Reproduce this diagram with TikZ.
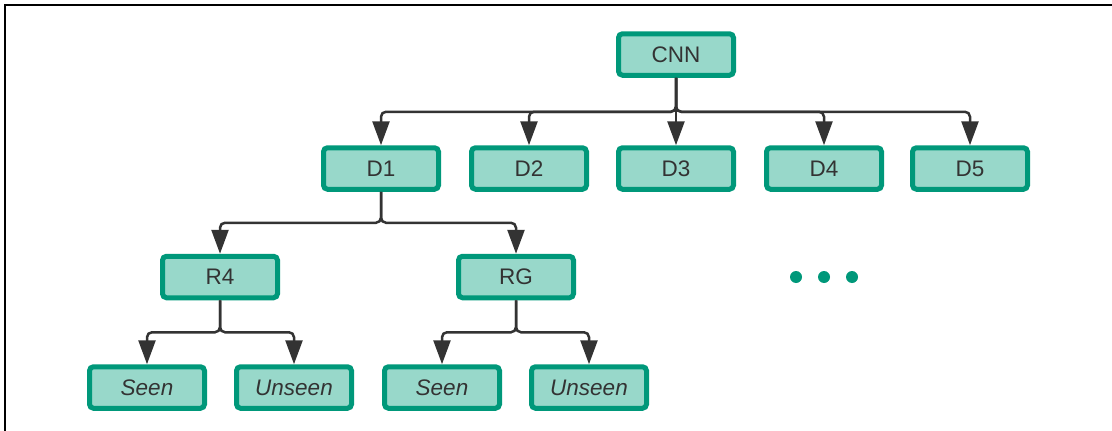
\documentclass[tikz,border=0pt]{standalone}
\usepackage{fontspec}
\setmainfont{Liberation Sans}
\usetikzlibrary{arrows.meta}
\definecolor{boxfill}{RGB}{152,216,202}
\definecolor{boxline}{RGB}{0,152,122}
\definecolor{ink}{RGB}{51,51,51}
\tikzset{
  box/.style={draw=boxline, fill=boxfill, line width=5pt, rounded corners=4pt,
    minimum width=115pt, minimum height=41.5pt, inner sep=0pt,
    text=ink, font=\fontsize{22.5}{26}\selectfont},
  leaf/.style={box, font=\fontsize{22.5}{26}\selectfont\itshape},
  link/.style={draw=ink, line width=2.5pt, rounded corners=5pt,
    -{Triangle[length=24pt,width=17pt]}},
  dot/.style={circle, fill=boxline, inner sep=0pt, minimum size=12pt}
}
\begin{document}
\begin{tikzpicture}[x=1pt,y=-1pt]
\useasboundingbox (0,0) rectangle (1112,431);
% frame
\draw[line width=2pt, black] (5,431) -- (5,5) -- (1112,5);

% root and first level
\node[box] (cnn) at (676,54.5) {CNN};
\node[box] (d1) at (381,168.5) {D1};
\node[box] (d2) at (529,168.5) {D2};
\node[box] (d3) at (676,168.5) {D3};
\node[box] (d4) at (824,168.5) {D4};
\node[box] (d5) at (970,168.5) {D5};

% second level
\node[box] (r4) at (220,277) {R4};
\node[box] (rg) at (516,277) {RG};

% leaves
\node[leaf] (s1) at (147,387.5) {Seen};
\node[leaf] (u1) at (294,387.5) {Unseen};
\node[leaf] (s2) at (442,387.5) {Seen};
\node[leaf] (u2) at (589,387.5) {Unseen};

% ellipsis
\node[dot] (e1) at (796,277) {};
\node[dot] (e2) at (824,277) {};
\node[dot] (e3) at (852,277) {};

% connectors
\foreach \c in {d1,d2,d3,d4,d5}
  \draw[link] (cnn.south) -- ++(0,34) -| (\c.north);
\foreach \c in {r4,rg}
  \draw[link] (d1.south) -- ++(0,31) -| (\c.north);
\foreach \c in {s1,u1}
  \draw[link] (r4.south) -- ++(0,32) -| (\c.north);
\foreach \c in {s2,u2}
  \draw[link] (rg.south) -- ++(0,32) -| (\c.north);
\end{tikzpicture}
\end{document}
